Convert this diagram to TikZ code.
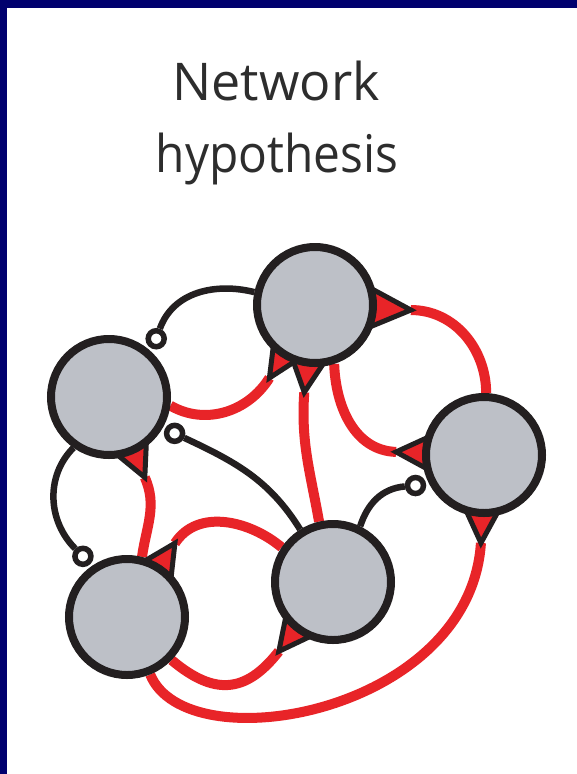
\documentclass[tikz,border=0pt]{standalone}
\usepackage{fontspec}
\setmainfont{Open Sans}
\usetikzlibrary{calc}
\definecolor{navy}{RGB}{0,0,110}
\definecolor{cellgray}{RGB}{189,192,199}
\definecolor{synred}{RGB}{232,36,40}
\definecolor{inkblack}{RGB}{35,31,32}
\definecolor{titlegray}{RGB}{45,45,45}
\pgfdeclarelayer{back}
\pgfdeclarelayer{bg}
\pgfsetlayers{back,bg,main}
% node, angle, apex distance, half base
\newcommand\syntri[4]{\begin{scope}[shift={(#1)},rotate=#2]\filldraw[tri](56,#4)--(#3,0)--(56,-#4)--cycle;\end{scope}}
\tikzset{
  neuron/.style={circle,draw=inkblack,fill=cellgray,line width=8pt,minimum size=116pt,inner sep=0pt},
  inh/.style={circle,draw=inkblack,fill=white,line width=5.5pt,minimum size=16pt,inner sep=0pt},
  excit/.style={draw=synred,line width=10pt},
  inhib/.style={draw=inkblack,line width=6.5pt},
  tri/.style={fill=synred,draw=inkblack,line width=5pt,line join=miter},
  titletext/.style={anchor=base,text=titlegray,font=\fontsize{52}{60}\selectfont,inner sep=0pt}
}
\begin{document}
\begin{tikzpicture}[x=1pt,y=1pt]
\useasboundingbox (0,0) rectangle (577,-774);
\begin{pgfonlayer}{back}
\fill[white] (-2,2) rectangle (580,-777);
\fill[navy] (-2,2) rectangle (580,-8);
\fill[navy] (-2,2) rectangle (7,-777);
\end{pgfonlayer}

\node[titletext] (t1) at (276,-100) {Network};
\node[titletext] (t2) at (277,-172) {\scalebox{0.92}[1]{hypothesis}};

% neurons
\node[neuron] (T)  at (315,-305) {};
\node[neuron] (L)  at (109,-397) {};
\node[neuron] (R)  at (484,-455) {};
\node[neuron] (BL) at (127,-617) {};
\node[neuron] (BM) at (333,-582) {};

% inhibitory terminals
\node[inh] (i1) at ($(L)+(51:75)$) {};
\node[inh] (i2) at ($(L)+(-29:75)$) {};
\node[inh] (i3) at ($(BL)+(126:75)$) {};
\node[inh] (i4) at ($(R)+(204:75)$) {};

% excitatory terminal apexes
\coordinate (a1) at ($(T)+(238:86)$);
\coordinate (a2) at ($(T)+(263:88)$);
\coordinate (a3) at ($(T)+(-3:96)$);
\coordinate (a4) at ($(R)+(178:88)$);
\coordinate (a5) at ($(R)+(268:88)$);
\coordinate (a6) at ($(L)+(-66:88)$);
\coordinate (a7) at ($(BL)+(57:88)$);
\coordinate (a8) at ($(BM)+(232:88)$);

\begin{pgfonlayer}{bg}
% inhibitory connections
\draw[inhib] (i1) to[out=70,in=166] (T.168);
\draw[inhib] (i2) to[out=-25,in=122] (BM.122);
\draw[inhib] (L.235) to[out=225,in=135] (i3);
\draw[inhib] (BM.64) to[out=72,in=185] (i4);
% excitatory connections
\draw[excit] (L.-8) to[out=-30,in=238] (a1);
\draw[excit] (BM.103) to[out=100,in=266] (a2);
\draw[excit] (R.88) to[out=90,in=0] (a3);
\draw[excit] (T.-72) to[out=-88,in=178] (a4);
\draw[excit] (BL.-68) .. controls +(36,-89) and +(-11,-171) .. (a5);
\draw[excit] (BL.76) to[out=82,in=-66] (a6);
\draw[excit] (BM.146) to[out=140,in=57] (a7);
\draw[excit] (BL.-44) to[out=-40,in=232,looseness=1.3] (a8);
% triangles
\syntri{T}{238}{86}{14}
\syntri{T}{263}{88}{16}
\syntri{T}{-3}{96}{19}
\syntri{R}{178}{88}{16}
\syntri{R}{268}{88}{16}
\syntri{L}{-66}{88}{16}
\syntri{BL}{57}{88}{16}
\syntri{BM}{232}{88}{16}
\end{pgfonlayer}
\end{tikzpicture}
\end{document}
